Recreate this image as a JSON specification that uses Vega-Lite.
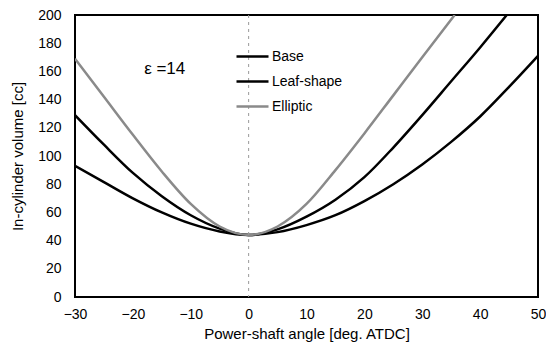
{
  "$schema": "https://vega.github.io/schema/vega-lite/v6.json",
  "autosize": {"type": "none"},
  "width": 463,
  "height": 282,
  "padding": {"left": 75, "top": 15, "right": 8, "bottom": 66},
  "background": "white",
  "config": {
    "font": "Liberation Sans",
    "view": {"stroke": "black", "strokeWidth": 2},
    "axis": {"grid": false, "domain": false, "ticks": false, "labelOverlap": false, "labelFlush": false, "labelColor": "black", "titleColor": "black", "labelFont": "Liberation Sans", "titleFont": "Liberation Sans", "titleFontWeight": "normal", "labelFontSize": 14, "titleFontSize": 15},
    "axisX": {"labelPadding": 10, "titlePadding": 5},
    "axisY": {"labelPadding": 14, "titlePadding": 12}
  },
  "datasets": {
    "volume": [
      {"angle": -30, "volume": 129, "series": "Base"},
      {"angle": -25, "volume": 108, "series": "Base"},
      {"angle": -20, "volume": 88, "series": "Base"},
      {"angle": -15, "volume": 71.5, "series": "Base"},
      {"angle": -10, "volume": 58, "series": "Base"},
      {"angle": -5, "volume": 48.5, "series": "Base"},
      {"angle": 0, "volume": 44, "series": "Base"},
      {"angle": 5, "volume": 48, "series": "Base"},
      {"angle": 10, "volume": 57, "series": "Base"},
      {"angle": 15, "volume": 69, "series": "Base"},
      {"angle": 20, "volume": 85, "series": "Base"},
      {"angle": 25, "volume": 106, "series": "Base"},
      {"angle": 30, "volume": 129, "series": "Base"},
      {"angle": 35, "volume": 153, "series": "Base"},
      {"angle": 40, "volume": 177, "series": "Base"},
      {"angle": 44.6, "volume": 200, "series": "Base"},
      {"angle": -30, "volume": 93, "series": "Leaf-shape"},
      {"angle": -25, "volume": 81.5, "series": "Leaf-shape"},
      {"angle": -20, "volume": 70, "series": "Leaf-shape"},
      {"angle": -15, "volume": 60, "series": "Leaf-shape"},
      {"angle": -10, "volume": 52, "series": "Leaf-shape"},
      {"angle": -5, "volume": 46.5, "series": "Leaf-shape"},
      {"angle": 0, "volume": 44, "series": "Leaf-shape"},
      {"angle": 5, "volume": 46, "series": "Leaf-shape"},
      {"angle": 10, "volume": 51, "series": "Leaf-shape"},
      {"angle": 15, "volume": 58, "series": "Leaf-shape"},
      {"angle": 20, "volume": 68, "series": "Leaf-shape"},
      {"angle": 25, "volume": 80, "series": "Leaf-shape"},
      {"angle": 30, "volume": 94, "series": "Leaf-shape"},
      {"angle": 35, "volume": 110, "series": "Leaf-shape"},
      {"angle": 40, "volume": 128, "series": "Leaf-shape"},
      {"angle": 45, "volume": 149, "series": "Leaf-shape"},
      {"angle": 50, "volume": 171, "series": "Leaf-shape"},
      {"angle": -30, "volume": 169, "series": "Elliptic"},
      {"angle": -25, "volume": 142, "series": "Elliptic"},
      {"angle": -20, "volume": 115, "series": "Elliptic"},
      {"angle": -15, "volume": 89, "series": "Elliptic"},
      {"angle": -10, "volume": 66, "series": "Elliptic"},
      {"angle": -5, "volume": 50, "series": "Elliptic"},
      {"angle": 0, "volume": 44, "series": "Elliptic"},
      {"angle": 5, "volume": 50, "series": "Elliptic"},
      {"angle": 10, "volume": 66, "series": "Elliptic"},
      {"angle": 15, "volume": 90, "series": "Elliptic"},
      {"angle": 20, "volume": 116, "series": "Elliptic"},
      {"angle": 25, "volume": 143, "series": "Elliptic"},
      {"angle": 30, "volume": 170, "series": "Elliptic"},
      {"angle": 35.6, "volume": 200, "series": "Elliptic"}
    ]
  },
  "layer": [
    {
      "data": {"name": "volume"},
      "mark": {"type": "line", "interpolate": "monotone", "clip": true},
      "encoding": {
        "x": {
          "field": "angle", "type": "quantitative",
          "scale": {"domain": [-30, 50], "nice": false, "zero": false},
          "axis": {"values": [-30, -20, -10, 0, 10, 20, 30, 40, 50], "title": "Power-shaft angle [deg. ATDC]"}
        },
        "y": {
          "field": "volume", "type": "quantitative",
          "scale": {"domain": [0, 200], "nice": false},
          "axis": {"values": [0, 20, 40, 60, 80, 100, 120, 140, 160, 180, 200], "title": "In-cylinder volume [cc]"}
        },
        "color": {
          "field": "series", "type": "nominal",
          "scale": {"domain": ["Base", "Leaf-shape", "Elliptic"], "range": ["#000000", "#000000", "#8a8a8a"]},
          "legend": {
            "title": null, "orient": "none", "legendX": 160, "legendY": 24,
            "symbolType": "stroke", "symbolSize": 1024, "symbolStrokeWidth": 2.5,
            "labelFontSize": 14, "labelColor": "black", "labelOffset": 2, "rowPadding": -8
          }
        },
        "strokeWidth": {
          "field": "series", "type": "nominal",
          "scale": {"domain": ["Base", "Leaf-shape", "Elliptic"], "range": [2.5, 2.5, 1.5]},
          "legend": null
        }
      }
    },
    {
      "data": {"values": [{}]},
      "mark": {"type": "rule", "color": "#9a9a9a", "strokeDash": [3, 4], "strokeWidth": 1},
      "encoding": {
        "x": {"datum": 0, "type": "quantitative", "axis": {"values": [-30, -20, -10, 0, 10, 20, 30, 40, 50], "title": "Power-shaft angle [deg. ATDC]"}}
      }
    },
    {
      "data": {"values": [{}]},
      "mark": {"type": "text", "text": "ε =14", "fontSize": 17, "font": "Liberation Sans", "color": "black", "align": "center", "baseline": "middle"},
      "encoding": {
        "x": {"datum": -14.5, "type": "quantitative", "axis": {"values": [-30, -20, -10, 0, 10, 20, 30, 40, 50], "title": "Power-shaft angle [deg. ATDC]"}},
        "y": {"datum": 162, "type": "quantitative", "axis": {"values": [0, 20, 40, 60, 80, 100, 120, 140, 160, 180, 200], "title": "In-cylinder volume [cc]"}}
      }
    }
  ]
}
